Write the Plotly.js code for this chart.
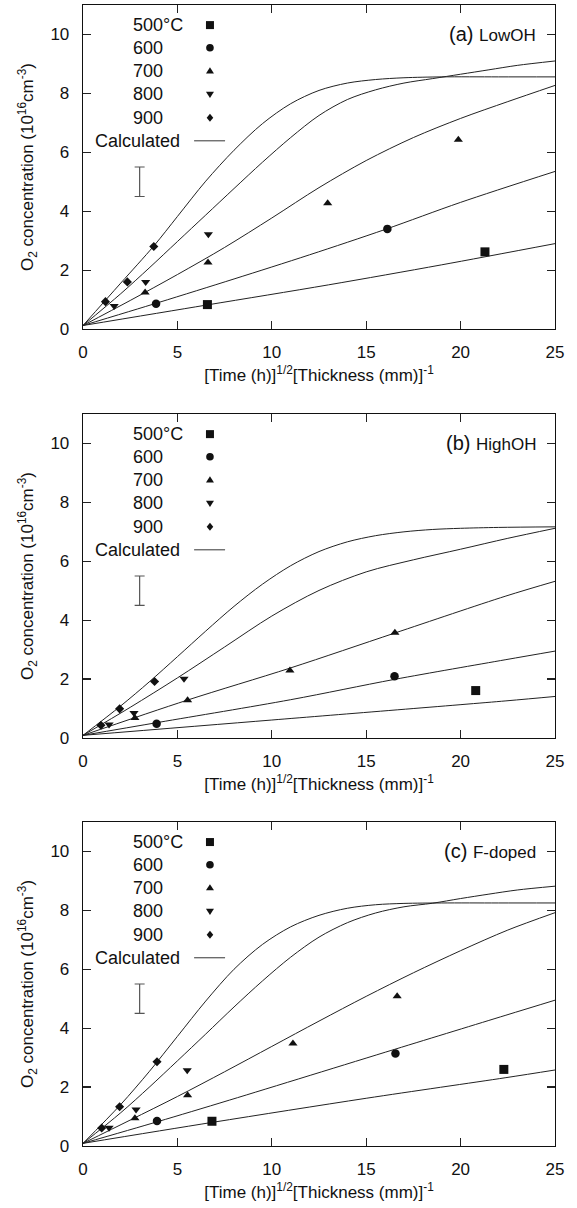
<!DOCTYPE html>
<html>
<head>
<meta charset="utf-8">
<script src="https://cdn.plot.ly/plotly-3.0.1.min.js"></script>
<style>html,body{margin:0;padding:0;background:#fff;}</style>
</head>
<body>
<div id="chart" style="width:577px;height:1208px;"></div>
<script>
// ---------- labels ----------
const tempLabels = ['500°C', '600', '700', '800', '900'];
const panelLetters = ['(a)', '(b)', '(c)'];
const panelNames = ['LowOH', 'HighOH', 'F-doped'];
const xTickVals = [0, 5, 10, 15, 20, 25];
const yTickVals = [0, 2, 4, 6, 8, 10];
const errX = [3.0], errY = [5.0], errHalf = [0.5];

// ---------- (a) LowOH measured ----------
const aX500 = [6.59, 21.29], aY500 = [0.83, 2.62];
const aX600 = [3.87, 16.12], aY600 = [0.86, 3.40];
const aX700 = [3.29, 6.62, 12.96, 19.88], aY700 = [1.24, 2.26, 4.27, 6.43];
const aX800 = [1.65, 3.32, 6.64], aY800 = [0.78, 1.60, 3.22];
const aX900 = [1.19, 2.35, 3.75], aY900 = [0.93, 1.60, 2.80];
// (a) calculated
const aCx500 = [0, 6.5, 13, 19, 25], aCy500 = [0.12, 0.81, 1.50, 2.18, 2.90];
const aCx600 = [0, 4, 8, 12, 16, 20, 25], aCy600 = [0.12, 0.90, 1.70, 2.52, 3.38, 4.30, 5.35];
const aCx700 = [0, 2.5, 5, 7.5, 10, 12.5, 15, 17.5, 20, 22.5, 25];
const aCy700 = [0.12, 0.97, 1.85, 2.77, 3.77, 4.80, 5.72, 6.50, 7.15, 7.72, 8.27];
const aCx800 = [0, 2, 3.5, 5, 6.5, 8, 9.5, 11, 12.5, 14, 15.5, 17, 18.5, 20, 21.5, 23, 25];
const aCy800 = [0.12, 1.20, 2.07, 2.97, 3.87, 4.77, 5.66, 6.50, 7.25, 7.79, 8.12, 8.35, 8.50, 8.65, 8.80, 8.95, 9.10];
const aCx900 = [0, 2, 3.75, 5, 6.5, 8, 9.5, 11, 12.5, 14, 15.5, 17, 19, 22, 25];
const aCy900 = [0.12, 1.56, 2.82, 3.82, 5.02, 6.07, 6.97, 7.65, 8.10, 8.35, 8.47, 8.53, 8.56, 8.56, 8.56];

// ---------- (b) HighOH measured ----------
const bX500 = [20.8], bY500 = [1.61];
const bX600 = [3.90, 16.5], bY600 = [0.485, 2.10];
const bX700 = [2.75, 5.54, 10.96, 16.52], bY700 = [0.68, 1.28, 2.29, 3.57];
const bX800 = [1.38, 2.70, 5.35], bY800 = [0.46, 0.85, 2.01];
const bX900 = [0.95, 1.94, 3.79], bY900 = [0.43, 0.99, 1.92];
// (b) calculated
const bCx500 = [0, 10, 22.4, 25], bCy500 = [0.09, 0.61, 1.26, 1.41];
const bCx600 = [0, 4, 11, 16.5, 22.4, 25], bCy600 = [0.09, 0.53, 1.30, 1.99, 2.66, 2.95];
const bCx700 = [0, 5.5, 11, 16.5, 22.4, 25], bCy700 = [0.09, 1.28, 2.38, 3.56, 4.82, 5.32];
const bCx800 = [0, 2.5, 5, 7.5, 10, 12.5, 15, 17.5, 20, 22.5, 25];
const bCy800 = [0.09, 1.04, 2.04, 3.09, 4.14, 5.01, 5.64, 6.05, 6.41, 6.78, 7.12];
const bCx900 = [0, 2, 3.5, 5, 6.5, 8, 9.5, 11, 12.5, 14, 15.5, 17, 18.5, 20, 22, 25];
const bCy900 = [0.09, 1.09, 1.90, 2.76, 3.63, 4.47, 5.22, 5.85, 6.33, 6.66, 6.87, 7.00, 7.08, 7.12, 7.15, 7.17];

// ---------- (c) F-doped measured ----------
const cX500 = [6.83, 22.29], cY500 = [0.84, 2.60];
const cX600 = [3.92, 16.55], cY600 = [0.85, 3.14];
const cX700 = [2.75, 5.54, 11.12, 16.64], cY700 = [0.94, 1.72, 3.48, 5.08];
const cX800 = [1.38, 2.81, 5.52], cY800 = [0.62, 1.24, 2.57];
const cX900 = [0.99, 1.94, 3.92], cY900 = [0.61, 1.33, 2.86];
// (c) calculated
const cCx500 = [0, 6.83, 15, 22.4, 25], cCy500 = [0.09, 0.80, 1.62, 2.32, 2.58];
const cCx600 = [0, 3.92, 7.77, 16.5, 22.4, 25], cCy600 = [0.09, 0.82, 1.56, 3.28, 4.44, 4.95];
const cCx700 = [0, 2.5, 5, 7.5, 10, 12.5, 15, 17.5, 20, 22.5, 25];
const cCy700 = [0.09, 0.88, 1.68, 2.52, 3.38, 4.24, 5.08, 5.88, 6.63, 7.33, 7.92];
const cCx800 = [0, 2, 3.5, 5, 6.5, 8, 9.5, 11, 12.5, 14, 15.5, 17, 18.5, 20, 21.5, 23, 25];
const cCy800 = [0.09, 1.13, 1.99, 2.89, 3.80, 4.72, 5.60, 6.41, 7.09, 7.58, 7.91, 8.12, 8.24, 8.40, 8.55, 8.69, 8.82];
const cCx900 = [0, 2, 3.5, 5, 6.5, 8, 9.5, 11, 12.5, 14, 15.5, 17, 19, 22, 25];
const cCy900 = [0.09, 1.41, 2.52, 3.72, 4.92, 6.00, 6.84, 7.44, 7.83, 8.07, 8.19, 8.235, 8.25, 8.25, 8.25];

// ---------- assemble ----------
const symbols = ['square', 'circle', 'triangle-up', 'triangle-down', 'diamond'];
const markerSizes = [9, 8.5, 8, 8, 7];
const measured = [
  [[aX500, aY500], [aX600, aY600], [aX700, aY700], [aX800, aY800], [aX900, aY900]],
  [[bX500, bY500], [bX600, bY600], [bX700, bY700], [bX800, bY800], [bX900, bY900]],
  [[cX500, cY500], [cX600, cY600], [cX700, cY700], [cX800, cY800], [cX900, cY900]]
];
const calculated = [
  [[aCx500, aCy500], [aCx600, aCy600], [aCx700, aCy700], [aCx800, aCy800], [aCx900, aCy900]],
  [[bCx500, bCy500], [bCx600, bCy600], [bCx700, bCy700], [bCx800, bCy800], [bCx900, bCy900]],
  [[cCx500, cCy500], [cCx600, cCy600], [cCx700, cCy700], [cCx800, cCy800], [cCx900, cCy900]]
];

const ink = '#111';
const traces = [];
const axSuffix = ['', '2', '3'];
for (let p = 0; p < 3; p++) {
  const xa = 'x' + axSuffix[p], ya = 'y' + axSuffix[p];
  calculated[p].forEach(function (c) {
    traces.push({x: c[0], y: c[1], xaxis: xa, yaxis: ya, mode: 'lines',
      line: {color: '#222', width: 1, shape: 'spline', smoothing: 0.9}, hoverinfo: 'skip'});
  });
  measured[p].forEach(function (m, i) {
    traces.push({x: m[0], y: m[1], xaxis: xa, yaxis: ya, mode: 'markers', name: tempLabels[i],
      marker: {symbol: symbols[i], size: markerSizes[i], color: ink, line: {width: 0}}});
  });
  traces.push({x: errX, y: errY, xaxis: xa, yaxis: ya, mode: 'markers',
    marker: {size: 1, color: 'rgba(0,0,0,0)'},
    error_y: {type: 'data', array: errHalf, color: '#555', thickness: 1.2, width: 5}});
}

const font = 'Liberation Sans, Arial, Helvetica, sans-serif';
function xAxis(anchor) {
  return {anchor: anchor, domain: [0, 1], range: [0, 25], tickvals: xTickVals,
    ticks: 'inside', ticklen: 8, tickwidth: 1.2, tickcolor: '#222',
    showline: true, linecolor: '#111', linewidth: 1.3, mirror: 'allticks',
    showgrid: false, zeroline: false, ticklabelstandoff: 7,
    tickfont: {family: font, size: 17, color: ink},
    title: {text: '[Time (h)]<sup>1/2</sup>[Thickness (mm)]<sup>-1</sup>',
      font: {family: font, size: 17, color: ink}, standoff: 8}};
}
function yAxis(anchor, dom) {
  return {anchor: anchor, domain: dom, range: [0, 11], tickvals: yTickVals,
    ticks: 'inside', ticklen: 8, tickwidth: 1.2, tickcolor: '#222',
    showline: true, linecolor: '#111', linewidth: 1.3, mirror: 'allticks',
    showgrid: false, zeroline: false, ticklabelstandoff: 9,
    tickfont: {family: font, size: 17, color: ink},
    title: {text: 'O<sub>2</sub> concentration (10<sup>16</sup>cm<sup>-3</sup>)',
      font: {family: font, size: 17, color: ink}, standoff: 12}};
}

// legend-like key inside each panel (text + glyph shapes)
const rowY = [0.938, 0.868, 0.797, 0.724, 0.652, 0.581];
const keyTextX = 0.101, calcRightX = 0.2108, keyMarkX = 0.269;
const annotations = [], shapes = [];
for (let p = 0; p < 3; p++) {
  const xr = 'x' + axSuffix[p] + ' domain', yr = 'y' + axSuffix[p] + ' domain';
  tempLabels.forEach(function (t, i) {
    annotations.push({xref: xr, yref: yr, x: keyTextX, y: rowY[i], xanchor: 'left', yanchor: 'middle',
      text: t, showarrow: false, font: {family: font, size: 18, color: ink}});
  });
  annotations.push({xref: xr, yref: yr, x: calcRightX, y: rowY[5], xanchor: 'right', yanchor: 'middle',
    text: 'Calculated', showarrow: false, font: {family: font, size: 18, color: ink}});
  annotations.push({xref: xr, yref: yr, x: 0.963, y: 0.910, xanchor: 'right', yanchor: 'middle',
    text: panelLetters[p] + ' <span style="font-size:17px">' + panelNames[p] + '</span>',
    showarrow: false, font: {family: font, size: 20, color: ink}});
  const base = {xref: xr, yref: yr, xsizemode: 'pixel', ysizemode: 'pixel', xanchor: keyMarkX,
    fillcolor: ink, line: {width: 0}, layer: 'above'};
  shapes.push(Object.assign({}, base, {type: 'rect', yanchor: rowY[0], x0: -4, x1: 4, y0: -4, y1: 4}));
  shapes.push(Object.assign({}, base, {type: 'circle', yanchor: rowY[1], x0: -3.8, x1: 3.8, y0: -3.8, y1: 3.8}));
  shapes.push(Object.assign({}, base, {type: 'path', yanchor: rowY[2], path: 'M-4,-2.6 L4,-2.6 L0,3.6 Z'}));
  shapes.push(Object.assign({}, base, {type: 'path', yanchor: rowY[3], path: 'M-4,2.6 L4,2.6 L0,-3.6 Z'}));
  shapes.push(Object.assign({}, base, {type: 'path', yanchor: rowY[4], path: 'M0,-4 L3.3,0 L0,4 L-3.3,0 Z'}));
  shapes.push({type: 'line', xref: xr, yref: yr, x0: 0.2354, x1: 0.301, y0: rowY[5], y1: rowY[5],
    line: {color: '#555', width: 1.2}});
}

const layout = {
  width: 577, height: 1208, margin: {l: 83, r: 22, t: 5, b: 62},
  paper_bgcolor: '#fff', plot_bgcolor: '#fff', showlegend: false,
  font: {family: font, size: 17, color: ink},
  xaxis: xAxis('y'), yaxis: yAxis('x', [0.716, 1]),
  xaxis2: xAxis('y2'), yaxis2: yAxis('x2', [0.3576, 0.6415]),
  xaxis3: xAxis('y3'), yaxis3: yAxis('x3', [0, 0.284]),
  annotations: annotations, shapes: shapes
};

Plotly.newPlot('chart', traces, layout, {staticPlot: true, displayModeBar: false});
</script>
</body>
</html>
